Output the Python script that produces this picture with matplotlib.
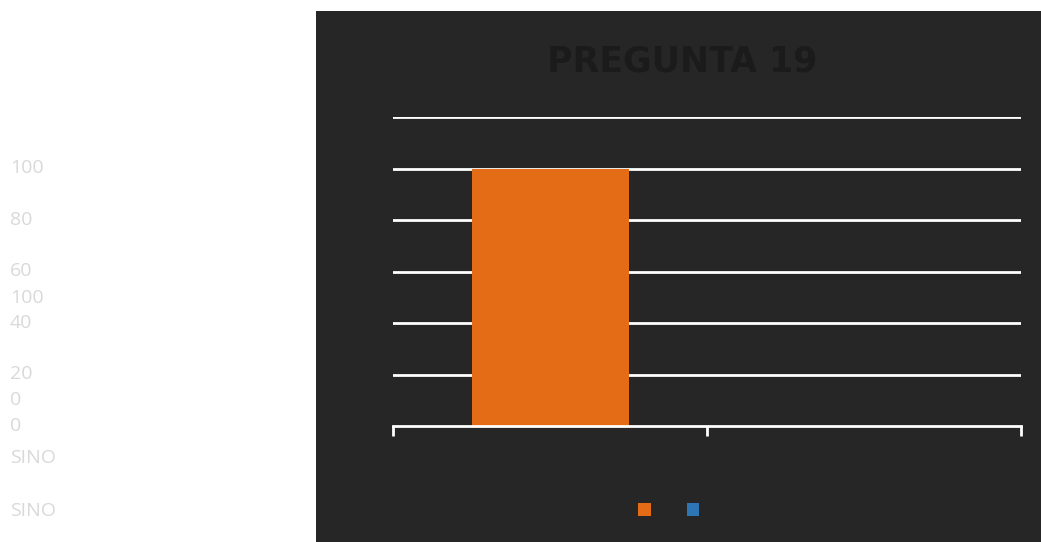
import matplotlib.pyplot as plt
from matplotlib.patches import Rectangle, Patch

categories = ["SI", "NO"]
values = [100, 0]
bar_colors = ["#E46C17", "#2E75B6"]
yticks = [0, 20, 40, 60, 80, 100, 120]

# stray labels shown on the white strip at the left
side_labels = ["100", "80", "60", "100", "40", "20", "0", "0", "SINO", "SINO"]
side_y = [168, 220, 271, 298, 323, 374, 400, 426, 458, 511]

W, H = 1041, 542
fig = plt.figure(figsize=(W / 100, H / 100), dpi=100)
fig.patch.set_facecolor("white")

# dark chart panel
fig.patches.append(Rectangle((316 / W, 0), (W - 316) / W, (H - 11) / H,
                             transform=fig.transFigure, facecolor="#262626",
                             edgecolor="none", zorder=-5))

ax = fig.add_axes([393 / W, 1 - 426 / H, (1021 - 393) / W, (426 - 117) / H])
ax.set_facecolor("none")
ax.set_zorder(2)
ax.set_xlim(-0.5, 1.5)
ax.set_ylim(0, 120)

for t in yticks[1:]:
    ax.axhline(t, color="white", lw=2, zorder=1)

ax.bar(range(len(categories)), values, width=0.5, color=bar_colors, zorder=2)

for s in ["top", "right", "left"]:
    ax.spines[s].set_visible(False)
ax.spines["bottom"].set_color("white")
ax.spines["bottom"].set_linewidth(2)
ax.spines["bottom"].set_zorder(3)
ax.set_yticks([])
ax.set_xticks([-0.5, 0.5, 1.5])
ax.set_xticklabels([])
ax.tick_params(axis="x", colors="white", length=7, width=2, direction="out")

fig.text(682 / W, 1 - 61 / H, "PREGUNTA 19", ha="center", va="center",
         fontsize=25, fontweight="bold", color="#1b1b1b", family="DejaVu Sans",
         zorder=3)

handles = [Patch(facecolor=c, edgecolor="none") for c in bar_colors]
fig.legend(handles, ["", ""], loc="center", bbox_to_anchor=(670 / W, 1 - 510 / H),
           ncol=2, frameon=False, handlelength=0.9, handleheight=1.1,
           columnspacing=2.4, handletextpad=0.2)

for lbl, y in zip(side_labels, side_y):
    fig.text(10 / W, 1 - y / H, lbl, ha="left", va="center", fontsize=14,
             color="#d9d9d9", family="Open Sans")

fig.savefig("out.png", dpi=100)
